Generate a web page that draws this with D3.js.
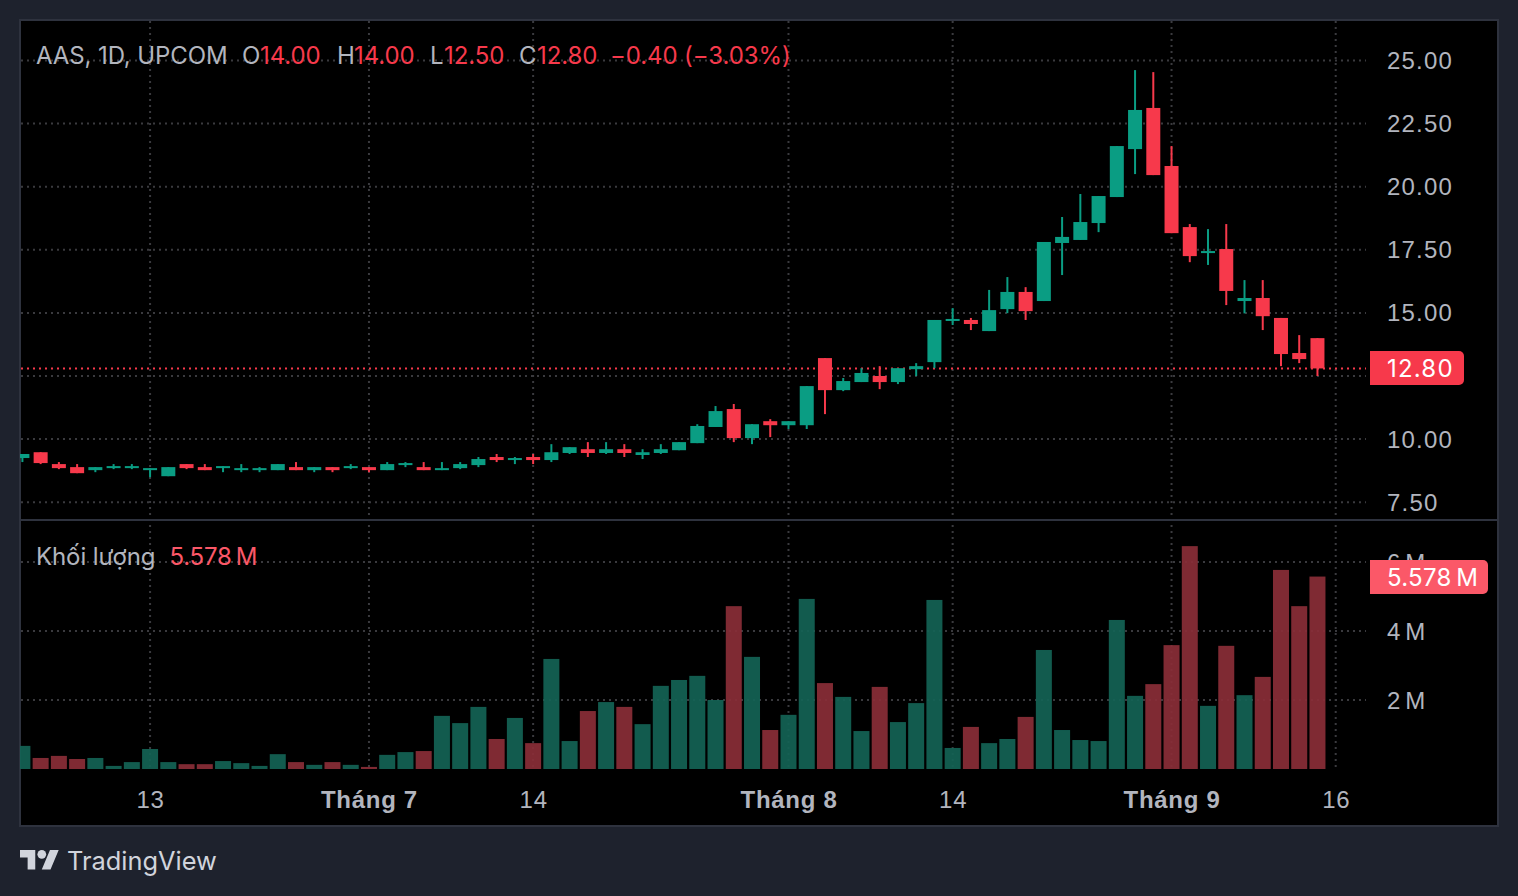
<!DOCTYPE html>
<html lang="vi">
<head>
<meta charset="UTF-8">
<title>AAS, 1D, UPCOM</title>
<style>
    html, body { margin: 0; padding: 0; background: #1e222d; overflow: hidden; }
    svg { display: block; font-family: Inter, "Noto Sans", sans-serif; }
    .tick text { fill: #b2b5be; font-size: 24px; }
    .price-axis text { letter-spacing: 1.2px; }
    .time-axis text { letter-spacing: 0.7px; }
    .grid line { stroke: #3a3a3e; stroke-width: 2; stroke-dasharray: 2 4; }
</style>
</head>
<body>
<svg id="chart" width="1518" height="896"></svg>
<script src="https://d3js.org/d3.v7.min.js"></script>
<script>
// OHLC, one entry per trading day
const opens = [9.25,9.48,9.01,8.89,8.77,8.85,8.85,8.77,8.53,9.01,8.89,8.85,8.77,8.77,8.77,8.89,8.77,8.89,8.85,8.89,8.77,8.97,8.89,8.77,8.85,8.97,9.29,
    9.17,9.29,9.17,9.45,9.60,9.45,9.60,9.37,9.45,9.56,9.84,10.48,11.19,10.04,10.71,10.55,10.55,13.21,11.94,12.26,12.50,12.26,12.77,
    13.05,14.68,14.72,14.28,15.15,15.83,15.47,17.77,17.89,18.56,19.59,21.49,23.12,20.82,18.40,17.37,17.53,15.47,15.59,14.80,13.41,14.00];
const highs = [9.41,9.48,9.09,9.01,8.89,9.01,9.01,8.85,8.89,9.01,9.01,8.93,9.01,8.89,9.01,9.09,8.89,8.89,9.01,8.89,9.09,9.09,9.09,9.09,9.09,9.29,9.41,
    9.29,9.41,9.80,9.68,9.88,9.88,9.80,9.60,9.80,9.88,10.59,11.31,11.39,10.59,10.79,10.71,12.10,13.21,12.42,12.81,12.89,12.81,13.01,
    14.72,15.19,14.80,15.91,16.42,16.02,17.81,18.80,19.71,19.63,21.61,24.62,24.54,21.61,18.52,18.32,18.52,16.30,16.30,14.80,14.12,14.00];
const lows = [9.09,9.01,8.81,8.65,8.69,8.81,8.81,8.49,8.53,8.81,8.77,8.69,8.69,8.69,8.77,8.77,8.69,8.69,8.81,8.69,8.77,8.89,8.77,8.77,8.81,8.89,9.09,
    9.01,9.01,9.09,9.41,9.29,9.41,9.29,9.21,9.41,9.56,9.84,10.48,9.88,9.80,10.08,10.40,10.40,10.99,11.90,12.26,11.98,12.18,12.50,
    12.81,14.52,14.32,14.28,14.99,14.72,15.47,16.50,17.89,18.20,19.59,20.50,20.46,18.16,17.01,16.90,15.31,14.98,14.32,12.89,13.01,12.50];
const closes = [9.41,9.05,8.85,8.65,8.89,8.93,8.93,8.85,8.89,8.85,8.77,8.93,8.85,8.85,9.01,8.77,8.89,8.77,8.93,8.77,9.01,9.05,8.77,8.85,9.01,9.21,9.17,
    9.25,9.17,9.48,9.68,9.45,9.60,9.45,9.48,9.60,9.88,10.52,11.11,10.04,10.59,10.55,10.71,12.10,11.94,12.30,12.62,12.26,12.81,12.89,
    14.72,14.76,14.56,15.11,15.83,15.07,17.81,18.01,18.60,19.63,21.61,23.04,20.46,18.16,17.25,17.45,15.87,15.59,14.87,13.37,13.17,12.80];
// volume in millions
const volumes = [0.67,0.32,0.38,0.29,0.32,0.09,0.20,0.58,0.20,0.14,0.14,0.23,0.17,0.09,0.43,0.20,0.12,0.20,0.12,0.06,0.41,0.49,0.52,1.54,1.33,1.80,0.87,
    1.48,0.75,3.19,0.81,1.68,1.94,1.80,1.30,2.41,2.58,2.70,2.00,4.72,3.25,1.13,1.57,4.93,2.49,2.09,1.10,2.38,1.36,1.91,
    4.90,0.61,1.22,0.75,0.87,1.51,3.45,1.13,0.84,0.81,4.32,2.12,2.46,3.59,6.46,1.83,3.57,2.14,2.67,5.77,4.72,5.578];

const priceTicks = [7.5, 10, 12.5, 15, 17.5, 20, 22.5, 25];
const priceLabels = [7.5, 10, 15, 17.5, 20, 22.5, 25]; // 12.50 is covered by the last price label
const volumeTicks = [2, 4, 6];
const timeTickIndex = [7, 19, 28, 42, 51, 63, 72];
const timeTickLabels = ['13', 'Tháng 7', '14', 'Tháng 8', '14', 'Tháng 9', '16'];
const lastPrice = 12.8;
const lastVolume = 5.578;

const legendParts = [
    ['AAS, 1D, UPCOM', 36, 'n'], ['O', 242, 'n'], ['14.00', 260, 'r'], ['H', 337, 'n'], ['14.00', 354, 'r'],
    ['L', 430, 'n'], ['12.50', 444, 'r'], ['C', 519, 'n'], ['12.80', 537, 'r'], ['−0.40 (−3.03%)', 610, 'r']
];

const UP = '#0a9d83', DOWN = '#f7394b';
const VOL_UP = '#136355', VOL_DOWN = '#8a2e37';

const pane = { left: 20, right: 1498, top: 20, bottom: 826, split: 520, plotRight: 1366 };

const x = d3.scaleLinear().domain([0, 72]).range([22.4, 1335.7]);
const y = d3.scaleLinear().domain([7.5, 25]).range([502.2, 60.5]);
const v = d3.scaleLinear().domain([0, 6]).range([769, 562]);

const svg = d3.select('#chart');
const defs = svg.append('defs');
defs.append('clipPath').attr('id', 'plot').append('rect')
    .attr('x', pane.left).attr('y', pane.top)
    .attr('width', pane.plotRight - pane.left).attr('height', 760);

svg.append('rect').attr('x', pane.left).attr('y', pane.top)
    .attr('width', pane.right - pane.left).attr('height', pane.bottom - pane.top)
    .attr('fill', '#000').attr('stroke', '#2e323e').attr('stroke-width', 2);

// grid
const grid = svg.append('g').attr('class', 'grid');
grid.selectAll('.gv').data(timeTickIndex).enter().append('line')
    .attr('x1', d => x(d)).attr('x2', d => x(d)).attr('y1', pane.top + 1).attr('y2', v(0));
grid.selectAll('.gp').data(priceTicks).enter().append('line')
    .attr('x1', pane.left + 1).attr('x2', pane.plotRight).attr('y1', d => y(d)).attr('y2', d => y(d));
grid.selectAll('.gq').data(volumeTicks).enter().append('line')
    .attr('x1', pane.left + 1).attr('x2', pane.plotRight).attr('y1', d => v(d)).attr('y2', d => v(d));

svg.append('line').attr('x1', pane.left).attr('x2', pane.right)
    .attr('y1', pane.split).attr('y2', pane.split)
    .attr('stroke', '#2e323e').attr('stroke-width', 2);

const plot = svg.append('g').attr('clip-path', 'url(#plot)');

// volume bars
plot.selectAll('.vol').data(volumes).enter().append('rect')
    .attr('class', 'vol')
    .attr('x', (d, i) => x(i) - 8)
    .attr('width', 16)
    .attr('y', d => v(d))
    .attr('height', d => v(0) - v(d))
    .attr('fill', (d, i) => closes[i] >= opens[i] ? VOL_UP : VOL_DOWN)
    .attr('opacity', 0.92);

// last price line sits under the candles
plot.append('line')
    .attr('x1', pane.left + 1).attr('x2', pane.plotRight)
    .attr('y1', y(lastPrice)).attr('y2', y(lastPrice))
    .attr('stroke', DOWN).attr('stroke-width', 2).attr('stroke-dasharray', '2 4');

// candles
const candles = plot.selectAll('.candle').data(opens).enter().append('g').attr('class', 'candle');
candles.append('line')
    .attr('x1', (d, i) => x(i)).attr('x2', (d, i) => x(i))
    .attr('y1', (d, i) => y(highs[i])).attr('y2', (d, i) => y(lows[i]))
    .attr('stroke', (d, i) => closes[i] >= d ? UP : DOWN).attr('stroke-width', 2);
candles.append('rect')
    .attr('x', (d, i) => x(i) - 7)
    .attr('width', 14)
    .attr('y', (d, i) => y(Math.max(d, closes[i])))
    .attr('height', (d, i) => Math.max(2, Math.abs(y(d) - y(closes[i]))))
    .attr('fill', (d, i) => closes[i] >= d ? UP : DOWN);

// axes
const priceAxis = d3.axisRight(y).tickValues(priceLabels).tickFormat(d3.format('.2f')).tickSize(0).tickPadding(0);
svg.append('g').attr('class', 'price-axis').attr('transform', 'translate(1387,0.3)').call(priceAxis)
    .call(g => g.select('.domain').remove());

const volumeAxis = d3.axisRight(v).tickValues(volumeTicks).tickFormat(d => d + '\u2009M').tickSize(0).tickPadding(0);
svg.append('g').attr('transform', 'translate(1387,1)').call(volumeAxis).call(g => g.select('.domain').remove());

const timeAxis = d3.axisBottom(x).tickValues(timeTickIndex)
    .tickFormat((d, i) => timeTickLabels[i]).tickSize(0).tickPadding(0);
svg.append('g').attr('class', 'time-axis').attr('transform', 'translate(0,790.5)').call(timeAxis)
    .call(g => g.select('.domain').remove())
    .call(g => g.selectAll('text').attr('font-weight', (d, i) => timeTickLabels[i].startsWith('Tháng') ? 600 : 400));

// last value labels
function valueLabel(top, width, fill, text, spacing) {
    svg.append('path')
        .attr('d', `M1370,${top}H${1370 + width - 5}a5,5 0 0 1 5,5V${top + 29}a5,5 0 0 1 -5,5H1370Z`)
        .attr('fill', fill);
    svg.append('text').attr('x', 1387).attr('y', top + 26)
        .attr('fill', '#fff').attr('font-size', 24).attr('letter-spacing', spacing).text(text);
}
valueLabel(Math.round(y(lastPrice)) - 17, 94, DOWN, d3.format('.2f')(lastPrice), 1.2);
valueLabel(Math.round(v(lastVolume)) - 17, 118, '#fb5868', d3.format('.3f')(lastVolume) + '\u2009M', 0.3);

// legends
svg.append('g').selectAll('text').data(legendParts).enter().append('text')
    .attr('x', d => d[1]).attr('y', 64).attr('font-size', 24).attr('letter-spacing', -0.1)
    .attr('fill', d => d[2] === 'r' ? DOWN : '#b2b5be')
    .text(d => d[0]);
svg.append('text').attr('x', 36).attr('y', 565).attr('font-size', 24).attr('letter-spacing', -0.1).attr('fill', '#b2b5be').text('Khối lượng');
svg.append('text').attr('x', 169.5).attr('y', 565).attr('font-size', 24).attr('letter-spacing', -0.2).attr('fill', '#fb5868')
    .text(d3.format('.3f')(lastVolume) + '\u2009M');

// TradingView mark
const logo = svg.append('g').attr('transform', 'translate(20,845.6) scale(1.09)').attr('fill', '#d1d4dc');
logo.append('path').attr('d', 'M14 22H7V11H0V4h14v18zM28 22h-8l7.5-18h8L28 22z');
logo.append('circle').attr('cx', 20).attr('cy', 8).attr('r', 4);
svg.append('text').attr('x', 67).attr('y', 869.5).attr('font-size', 25.4).attr('fill', '#d1d4dc').text('TradingView');
</script>
</body>
</html>
